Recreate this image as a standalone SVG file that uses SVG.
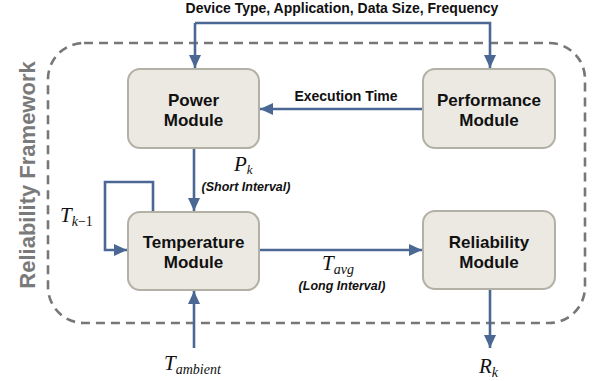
<svg xmlns="http://www.w3.org/2000/svg" width="593" height="381" viewBox="0 0 593 381">
<style>
.box{fill:#ebe9e2;stroke:#b3b0a6;stroke-width:2}
.lbl{font-family:"Liberation Sans",Arial,sans-serif;font-weight:bold;font-size:17px;fill:#111;text-anchor:middle}
.el{font-family:"Liberation Sans",Arial,sans-serif;font-weight:bold;font-size:14px;fill:#111}
.it{font-family:"Liberation Sans",Arial,sans-serif;font-weight:bold;font-style:italic;font-size:12.5px;fill:#111}
.m{font-family:"Liberation Serif","Times New Roman",serif;font-style:italic;font-size:21px;fill:#111}
.c{fill:none;stroke:#4b6894;stroke-width:2.6}
</style>
<defs>
<marker id="ah" markerUnits="userSpaceOnUse" markerWidth="14" markerHeight="14" viewBox="0 0 14 14" refX="13" refY="7" orient="auto">
<path d="M0,1 L13,7 L0,13 Z" fill="#4b6894"/>
</marker>
</defs>
<rect x="48" y="43" width="537" height="280" rx="36" ry="36" fill="none" stroke="#777" stroke-width="2.6" stroke-dasharray="9,6"/>
<text transform="translate(35,175) rotate(-90)" font-family="'Liberation Sans',Arial,sans-serif" font-weight="bold" font-size="22" fill="#7a7a7a" text-anchor="middle">Reliability Framework</text>
<g id="connectors">
<path class="c" d="M195,23 V68" marker-end="url(#ah)"/>
<path class="c" d="M195,23 H490 V68" marker-end="url(#ah)"/>
<path class="c" d="M423,109 H260" marker-end="url(#ah)"/>
<path class="c" d="M194,148 V211" marker-end="url(#ah)"/>
<path class="c" d="M153,212 V182 H105 V250 H127" marker-end="url(#ah)"/>
<path class="c" d="M259,250 H422" marker-end="url(#ah)"/>
<path class="c" d="M194,348 V291" marker-end="url(#ah)"/>
<path class="c" d="M490,289 V348" marker-end="url(#ah)"/>
</g>
<text class="el" x="342" y="13" text-anchor="middle">Device Type, Application, Data Size, Frequency</text>
<text class="el" x="346" y="101" text-anchor="middle">Execution Time</text>
<g id="power"><rect class="box" x="128" y="69" width="131" height="79" rx="12"/><text class="lbl" x="193.5" y="106">Power</text><text class="lbl" x="193.5" y="126">Module</text></g>
<g id="performance"><rect class="box" x="423" y="69" width="132" height="79" rx="12"/><text class="lbl" x="489" y="106">Performance</text><text class="lbl" x="489" y="126">Module</text></g>
<g id="temperature"><rect class="box" x="128" y="212" width="131" height="78" rx="12"/><text class="lbl" x="193.5" y="248">Temperature</text><text class="lbl" x="193.5" y="268">Module</text></g>
<g id="reliability"><rect class="box" x="423" y="211" width="132" height="78" rx="12"/><text class="lbl" x="489" y="248">Reliability</text><text class="lbl" x="489" y="268">Module</text></g>
<text class="m" x="234" y="171">P<tspan font-size="13" dy="3">k</tspan></text>
<text class="it" x="246" y="191" text-anchor="middle">(Short Interval)</text>
<text class="m" x="60" y="222">T<tspan font-size="14" dy="4">k</tspan><tspan font-size="14" font-style="normal">−1</tspan></text>
<text class="m" x="322" y="270">T<tspan font-size="14" dy="4">avg</tspan></text>
<text class="it" x="342" y="290" text-anchor="middle">(Long Interval)</text>
<text class="m" x="164" y="370">T<tspan font-size="14" dy="4">ambient</tspan></text>
<text class="m" x="479" y="373">R<tspan font-size="14" dy="4">k</tspan></text>
</svg>
